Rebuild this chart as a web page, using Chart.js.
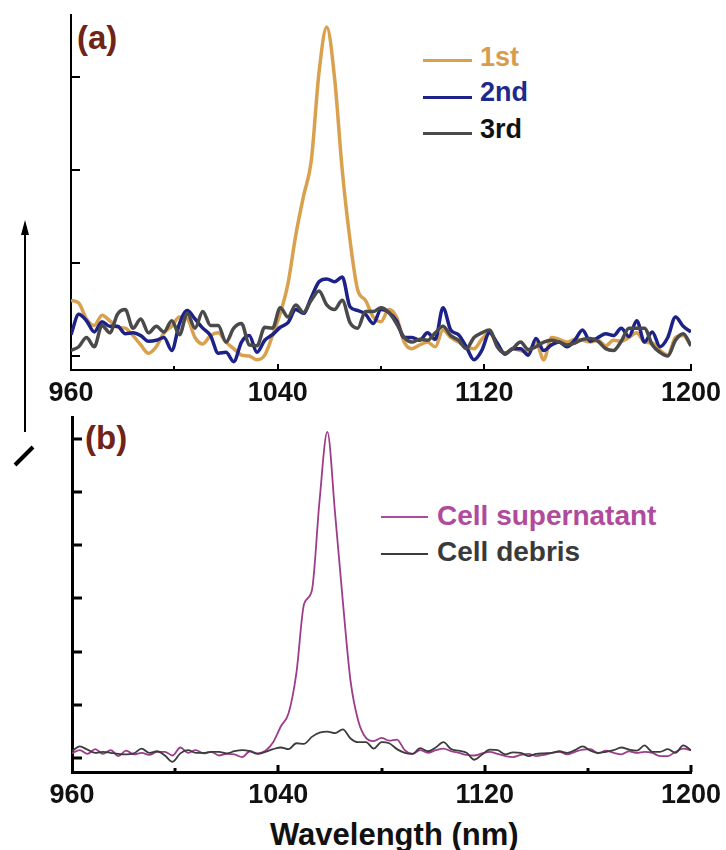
<!DOCTYPE html>
<html>
<head>
<meta charset="utf-8">
<script src="https://cdn.jsdelivr.net/npm/chart.js@4.4.0/dist/chart.umd.min.js"></script>
<style>
    body { margin: 0; background: #fff; width: 726px; height: 850px; position: relative; overflow: hidden; font-family: 'Liberation Sans', Arial, sans-serif; }
    .box { position: absolute; left: 0; width: 726px; }
    #boxA { top: 0; height: 410px; z-index: 2; }
    #boxB { top: 400px; height: 450px; z-index: 1; }
    .tag { position: absolute; font-weight: bold; font-size: 33px; line-height: 33px; color: #6e2417; }
    .ln { position: absolute; }
    .lt { position: absolute; font-weight: bold; white-space: nowrap; }
    #title { position: absolute; left: 270px; top: 819px; font-weight: bold; font-size: 31px; line-height: 31px; color: #111; }
    svg { position: absolute; left: 0; top: 0; z-index: 3; }
</style>
</head>
<body>
<div class="box" id="boxA"><canvas id="chartA" width="726" height="410"></canvas></div>
<div class="box" id="boxB"><canvas id="chartB" width="726" height="450"></canvas></div>

<div class="tag" style="left:77px;top:21px;">(a)</div>
<div class="tag" style="left:85px;top:421px;">(b)</div>

<div class="ln" style="left:423px;top:59px;width:49px;height:3px;background:#d9a04e;"></div>
<div class="lt" style="left:480px;top:44px;font-size:27px;line-height:27px;color:#d89c4e;">1st</div>
<div class="ln" style="left:423px;top:96px;width:49px;height:3px;background:#1c2288;"></div>
<div class="lt" style="left:480px;top:79px;font-size:27px;line-height:27px;color:#1e2a8a;">2nd</div>
<div class="ln" style="left:423px;top:132px;width:49px;height:3px;background:#4a4a4a;"></div>
<div class="lt" style="left:480px;top:116px;font-size:27px;line-height:27px;color:#111;">3rd</div>

<div class="ln" style="left:381px;top:516px;width:47px;height:2px;background:#b04a9c;"></div>
<div class="lt" style="left:437px;top:502px;font-size:28px;line-height:28px;color:#b04a9c;">Cell supernatant</div>
<div class="ln" style="left:381px;top:553px;width:47px;height:2px;background:#3a3a3a;"></div>
<div class="lt" style="left:437px;top:538px;font-size:28px;line-height:28px;color:#3a3a3a;">Cell debris</div>

<div id="title">Wavelength (nm)</div>

<svg width="726" height="850">
    <line x1="25" y1="432" x2="25" y2="232" stroke="#000" stroke-width="2"/>
    <polygon points="25,220 21,235 29,235" fill="#000"/>
    <line x1="15" y1="465" x2="33" y2="447" stroke="#000" stroke-width="4"/>
</svg>

<script>
const wavelengths = [960, 963, 966, 969, 972, 975, 978, 981, 984, 987, 990, 993, 996, 999, 1002, 1005, 1008, 1011, 1014, 1017,
    1020, 1023, 1026, 1029, 1032, 1035, 1038, 1041, 1044, 1047, 1050, 1053, 1056, 1059, 1062, 1065, 1068, 1071, 1074, 1077,
    1080, 1083, 1086, 1089, 1092, 1095, 1098, 1101, 1104, 1107, 1110, 1113, 1116, 1119, 1122, 1125, 1128, 1131, 1134, 1137,
    1140, 1143, 1146, 1149, 1152, 1155, 1158, 1161, 1164, 1167, 1170, 1173, 1176, 1179, 1182, 1185, 1188, 1191, 1194, 1197, 1200];

// panel (a)
const first = [0.6, 0.57, 0.4, 0.33, 0.44, 0.38, 0.31, 0.3, 0.22, 0.12, 0.03, 0.1, 0.25, 0.32, 0.42, 0.4, 0.2, 0.13, 0.22, 0.25,
    0.15, 0.08, 0.01, 0.0, -0.04, 0.01, 0.22, 0.46, 0.78, 1.3, 1.72, 2.1, 3.05, 3.54, 3.0, 2.0, 1.25, 0.71, 0.6, 0.42,
    0.37, 0.5, 0.42, 0.15, 0.08, 0.12, 0.15, 0.1, 0.28, 0.2, 0.15, 0.1, 0.08, 0.18, 0.25, 0.12, 0.03, 0.08, 0.06, 0.04,
    0.15, -0.04, 0.2, 0.18, 0.15, 0.18, 0.17, 0.15, 0.17, 0.11, 0.17, 0.16, 0.2, 0.25, 0.15, 0.14, 0.06, 0.01, 0.2, 0.22, 0.11];
const second = [0.23, 0.45, 0.38, 0.26, 0.37, 0.32, 0.32, 0.24, 0.25, 0.22, 0.16, 0.17, 0.2, 0.06, 0.35, 0.49, 0.4, 0.3, 0.22, 0.03,
    0.04, -0.06, 0.15, 0.22, 0.04, 0.17, 0.23, 0.31, 0.36, 0.5, 0.46, 0.63, 0.8, 0.83, 0.8, 0.85, 0.53, 0.49, 0.45, 0.35,
    0.5, 0.47, 0.38, 0.2, 0.2, 0.17, 0.25, 0.18, 0.52, 0.28, 0.23, 0.1, -0.04, 0.06, 0.25, 0.14, 0.02, 0.08, 0.08, 0.01,
    0.19, 0.06, 0.12, 0.15, 0.1, 0.17, 0.28, 0.16, 0.2, 0.24, 0.22, 0.3, 0.21, 0.38, 0.15, 0.26, 0.1, 0.2, 0.42, 0.32, 0.26];
const third = [0.06, 0.1, 0.2, 0.1, 0.33, 0.25, 0.45, 0.5, 0.3, 0.4, 0.25, 0.32, 0.26, 0.38, 0.23, 0.46, 0.3, 0.48, 0.33, 0.33,
    0.15, 0.3, 0.35, 0.12, 0.11, 0.31, 0.3, 0.52, 0.42, 0.55, 0.47, 0.6, 0.7, 0.55, 0.5, 0.6, 0.36, 0.3, 0.48, 0.48,
    0.52, 0.47, 0.35, 0.2, 0.15, 0.18, 0.17, 0.25, 0.32, 0.22, 0.17, 0.08, 0.2, 0.25, 0.28, 0.1, 0.03, 0.08, 0.15, 0.07,
    0.1, 0.15, 0.17, 0.15, 0.12, 0.14, 0.18, 0.19, 0.16, 0.08, 0.06, 0.16, 0.3, 0.3, 0.3, 0.12, 0.04, 0.0, 0.17, 0.24, 0.11];

// panel (b)
const supernatant = [0.09, 0.15, 0.08, 0.17, 0.08, 0.15, 0.04, 0.14, 0.07, 0.1, 0.06, 0.12, 0.12, 0.05, 0.2, 0.1, 0.15, 0.09, 0.12, 0.05,
    0.08, 0.07, 0.02, 0.13, 0.09, 0.14, 0.3, 0.6, 0.85, 1.6, 2.9, 3.15, 4.85, 6.13, 4.6, 2.95, 1.45, 0.7, 0.38, 0.32,
    0.38, 0.33, 0.35, 0.15, 0.08, 0.15, 0.1, 0.15, 0.18, 0.13, 0.1, 0.06, 0.05, 0.09, 0.12, 0.08, 0.04, 0.02, 0.06, 0.08,
    0.04, 0.06, 0.1, 0.12, 0.07, 0.12, 0.16, 0.17, 0.09, 0.14, 0.1, 0.07, 0.13, 0.1, 0.12, 0.1, 0.04, 0.04, 0.12, 0.18, 0.15];
const debris = [0.13, 0.22, 0.16, 0.1, 0.12, 0.1, 0.08, 0.07, 0.09, 0.18, 0.1, 0.13, 0.05, -0.07, 0.09, 0.15, 0.1, 0.1, 0.12, 0.12,
    0.09, 0.13, 0.15, 0.13, 0.08, 0.12, 0.17, 0.2, 0.17, 0.28, 0.27, 0.4, 0.48, 0.5, 0.47, 0.54, 0.37, 0.3, 0.3, 0.18,
    0.3, 0.28, 0.17, 0.1, 0.08, 0.19, 0.13, 0.2, 0.3, 0.17, 0.14, 0.1, -0.03, 0.07, 0.16, 0.15, 0.07, 0.11, 0.1, 0.04,
    0.08, 0.09, 0.1, 0.13, 0.1, 0.15, 0.22, 0.14, 0.1, 0.12, 0.15, 0.2, 0.16, 0.14, 0.24, 0.12, 0.12, 0.17, 0.1, 0.24, 0.15];

const xLabels = [960, 1040, 1120, 1200];
const xMinor = [1000, 1080, 1160];
const yTicksA = [0, 1, 2, 3];
const yTicksB = [0, 1, 2, 3, 4, 5, 6];

function pts(ys) {
    return wavelengths.map((w, i) => ({ x: w, y: ys[i] }));
}

// inward tick marks + tick labels, placed with the chart's own scales
function tickPlugin(yTicks, cfg) {
    return {
        id: 'inTicks',
        afterDraw(chart) {
            const { ctx, chartArea, scales } = chart;
            ctx.save();
            ctx.strokeStyle = '#000';
            ctx.lineWidth = cfg.width;
            yTicks.forEach(v => {
                const y = Math.round(scales.y.getPixelForValue(v));
                ctx.beginPath();
                ctx.moveTo(chartArea.left, y);
                ctx.lineTo(chartArea.left + cfg.yLen, y);
                ctx.stroke();
            });
            xLabels.slice(1).forEach(v => {
                const x = Math.round(scales.x.getPixelForValue(v));
                ctx.beginPath();
                ctx.moveTo(x, chartArea.bottom);
                ctx.lineTo(x, chartArea.bottom - cfg.xLen);
                ctx.stroke();
            });
            xMinor.forEach(v => {
                const x = Math.round(scales.x.getPixelForValue(v));
                ctx.beginPath();
                ctx.moveTo(x, chartArea.bottom);
                ctx.lineTo(x, chartArea.bottom - cfg.xMinorLen);
                ctx.stroke();
            });
            ctx.fillStyle = '#111';
            ctx.font = "bold 27px 'Liberation Sans', Arial, sans-serif";
            ctx.textAlign = 'center';
            ctx.textBaseline = 'alphabetic';
            xLabels.forEach(v => {
                ctx.fillText(String(v), scales.x.getPixelForValue(v), chartArea.bottom + cfg.labelDrop);
            });
            ctx.restore();
        }
    };
}

function makeChart(id, datasets, yMin, yMax, sizes, yTicks, cfg) {
    return new Chart(document.getElementById(id), {
        type: 'line',
        data: { datasets },
        options: {
            responsive: false,
            animation: false,
            events: [],
            layout: { padding: { top: sizes.top, right: 35, left: 0, bottom: 0 } },
            plugins: { legend: { display: false }, tooltip: { enabled: false } },
            elements: { point: { radius: 0 }, line: { cubicInterpolationMode: 'monotone' } },
            scales: {
                x: {
                    type: 'linear', min: 960, max: 1200,
                    afterFit: s => { s.height = sizes.xh; s.paddingLeft = 0; s.paddingRight = 0; },
                    grid: { display: false, drawTicks: false },
                    border: { display: true, color: '#000', width: cfg.axis },
                    ticks: { display: false }
                },
                y: {
                    min: yMin, max: yMax,
                    afterFit: s => { s.width = sizes.yw; },
                    grid: { display: false, drawTicks: false },
                    border: { display: true, color: '#000', width: cfg.axis },
                    ticks: { display: false }
                }
            }
        },
        plugins: [tickPlugin(yTicks, cfg)]
    });
}

makeChart('chartA', [
    { label: '1st', data: pts(first), borderColor: '#d9a04e', borderWidth: 3.5, order: 2 },
    { label: '2nd', data: pts(second), borderColor: '#1c2288', borderWidth: 3.5, order: 1 },
    { label: '3rd', data: pts(third), borderColor: '#4a4a4a', borderWidth: 3.5, order: 0 }
], -0.15, 3.67, { top: 15, xh: 40, yw: 71 }, yTicksA,
    { axis: 2, width: 2, yLen: 9, xLen: 6, xMinorLen: 4, labelDrop: 31 });

makeChart('chartB', [
    { label: 'Cell supernatant', data: pts(supernatant), borderColor: '#9e3c8c', borderWidth: 1.8, order: 1 },
    { label: 'Cell debris', data: pts(debris), borderColor: '#3c3c3c', borderWidth: 1.8, order: 0 }
], -0.26, 6.41, { top: 17, xh: 78, yw: 72 }, yTicksB,
    { axis: 3, width: 3, yLen: 10, xLen: 7, xMinorLen: 4, labelDrop: 31 });
</script>
</body>
</html>
